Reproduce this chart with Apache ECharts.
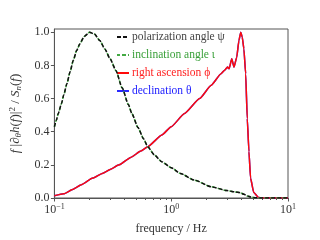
<!DOCTYPE html>
<html><head><meta charset="utf-8">
<script src="https://cdn.jsdelivr.net/npm/echarts@6/dist/echarts.min.js"></script>
<style>html,body{margin:0;padding:0;background:#fff}#c{width:320px;height:240px}</style>
</head><body><div id="c"></div>
<script>
// Polarization angle psi / inclination angle iota (dashed, overlapping)
const freqA = [0.1,0.104,0.108,0.115,0.12,0.128,0.136,0.145,0.155,0.165,0.18,0.2,0.22,0.245,0.27,0.3,0.336,0.38,0.43,0.46,0.52,0.58,0.63,0.72,0.83,1.0,1.2,1.58,2.2,3.0,3.5,3.9,4.2,4.5,4.8,5.3,6.0,10];
const psiVals = [0.43,0.47,0.51,0.57,0.62,0.69,0.76,0.83,0.89,0.93,0.975,1.0,0.99,0.95,0.90,0.84,0.77,0.665,0.564,0.51,0.425,0.357,0.309,0.259,0.219,0.183,0.148,0.108,0.068,0.045,0.037,0.032,0.022,0.012,0.006,0.001,0,0];
const iotaVals = [0.43,0.47,0.51,0.57,0.62,0.69,0.76,0.83,0.89,0.93,0.975,1.0,0.99,0.95,0.90,0.84,0.77,0.665,0.564,0.51,0.425,0.357,0.309,0.259,0.219,0.183,0.148,0.108,0.068,0.045,0.037,0.032,0.022,0.012,0.006,0.001,0,0];
// Right ascension phi / declination theta (solid, overlapping)
const freqB = [0.1,0.12,0.145,0.17,0.213,0.26,0.3,0.358,0.45,0.55,0.63,0.83,1.0,1.3,1.75,2.2,2.67,2.85,3.04,3.13,3.3,3.45,3.64,3.8,3.94,4.06,4.19,4.34,4.48,4.63,4.78,5.09,5.6,6.0,10];
const phiVals = [0.013,0.025,0.053,0.08,0.12,0.15,0.172,0.20,0.245,0.283,0.31,0.38,0.43,0.51,0.60,0.68,0.75,0.77,0.79,0.78,0.84,0.79,0.85,0.95,1.0,0.97,0.90,0.75,0.48,0.28,0.12,0.033,0.003,0,0];
const thetaVals = [0.013,0.025,0.053,0.08,0.12,0.15,0.172,0.20,0.245,0.283,0.31,0.38,0.43,0.51,0.60,0.68,0.75,0.77,0.79,0.78,0.84,0.79,0.85,0.95,1.0,0.97,0.90,0.75,0.48,0.28,0.12,0.033,0.003,0,0];
const yTicks = [0,0.2,0.4,0.6,0.8,1.0];
const xMajor = [0.1,1,10];
const xMinor = [0.2,0.3,0.4,0.5,0.6,0.7,0.8,0.9,2,3,4,5,6,7,8,9];
const names = ['polarization angle ψ','inclination angle ι','right ascension ϕ','declination θ'];

const zip = (xs, ys) => xs.map((x,i)=>[x, ys[i]]);
const FONT = 'Liberation Serif';
const chart = echarts.init(document.getElementById('c'), null, {renderer:'canvas'});
chart.setOption({
  animation:false,
  grid:{left:51,right:32,top:29,bottom:39,show:true,borderColor:'#555',borderWidth:1},
  legend:{
    orient:'vertical', left:116, top:31, padding:0, itemWidth:12, itemHeight:11, itemGap:6,
    itemStyle:{color:'transparent',borderWidth:0},
    textStyle:{fontFamily:FONT,fontSize:11.5,lineHeight:11,padding:[0,0,0,-2]},
    data:[
      {name:names[0],textStyle:{color:'#444'}},
      {name:names[1],textStyle:{color:'#3aa03a'}},
      {name:names[2],textStyle:{color:'#ff2020'}},
      {name:names[3],textStyle:{color:'#2020ff'}}
    ]
  },
  xAxis:[{
    type:'log', logBase:10, min:0.1, max:10,
    name:'frequency / Hz', nameLocation:'middle', nameGap:25,
    nameTextStyle:{fontFamily:FONT,fontSize:12,color:'#333'},
    axisLine:{lineStyle:{color:'#555'}},
    axisTick:{show:true,length:3.5,lineStyle:{color:'#555'},customValues:xMajor},
    axisLabel:{customValues:xMajor,margin:5,fontFamily:FONT,color:'#333',
      formatter:v=>{const e=Math.round(Math.log10(v));return '{b|10}{s|'+(e<0?'−'+(-e):e)+'}';},
      rich:{b:{fontFamily:FONT,fontSize:12,color:'#333'},s:{fontFamily:FONT,fontSize:8,color:'#333',verticalAlign:'top',padding:[0,0,6,0]}}},
    splitLine:{show:false}
  },{
    type:'log', logBase:10, min:0.1, max:10, position:'bottom',
    axisLine:{show:false},
    axisTick:{show:true,length:2,lineStyle:{color:'#555'},customValues:xMinor},
    axisLabel:{show:false}, splitLine:{show:false}
  }],
  yAxis:{
    type:'value', min:0, max:1.02,
    name:'{i|f} |{i|∂}{sb|θ}{i|h}({i|f})|{sp|2} / {i|S}{sb|n}({i|f})',
    nameLocation:'middle', nameRotate:90, nameGap:30,
    nameTextStyle:{fontFamily:FONT,fontSize:13,color:'#333',
      rich:{i:{fontFamily:FONT,fontStyle:'italic',fontSize:13,color:'#333'},
            sb:{fontFamily:FONT,fontStyle:'italic',fontSize:9,color:'#333',padding:[6,0,0,0]},
            sp:{fontFamily:FONT,fontSize:9,color:'#333',padding:[0,0,7,0]}}},
    axisLine:{show:true,lineStyle:{color:'#555'}},
    axisTick:{show:true,length:3.5,lineStyle:{color:'#555'},customValues:yTicks},
    axisLabel:{customValues:yTicks,margin:5,fontFamily:FONT,fontSize:12,color:'#333',formatter:v=>v.toFixed(1)},
    splitLine:{show:false}
  },
  series:[
    {name:names[3],type:'line',symbol:'none',smooth:0.15,smoothMonotone:'x',data:zip(freqB,thetaVals),lineStyle:{color:'#2a2aff',width:1.5},itemStyle:{color:'#2a2aff'},z:2},
    {name:names[2],type:'line',symbol:'none',smooth:0.15,smoothMonotone:'x',data:zip(freqB,phiVals),lineStyle:{color:'#ff0a0a',width:1.5},itemStyle:{color:'#ff0a0a'},z:3},
    {name:names[1],type:'line',symbol:'none',smooth:0.2,smoothMonotone:'x',data:zip(freqA,iotaVals),lineStyle:{color:'#44aa44',width:1.5,type:[4,2],dashOffset:1},itemStyle:{color:'#44aa44'},z:4},
    {name:names[0],type:'line',symbol:'none',smooth:0.2,smoothMonotone:'x',data:zip(freqA,psiVals),lineStyle:{color:'#111',width:1.5,type:[4,2]},itemStyle:{color:'#111'},z:5}
  ]
});
</script></body></html>
